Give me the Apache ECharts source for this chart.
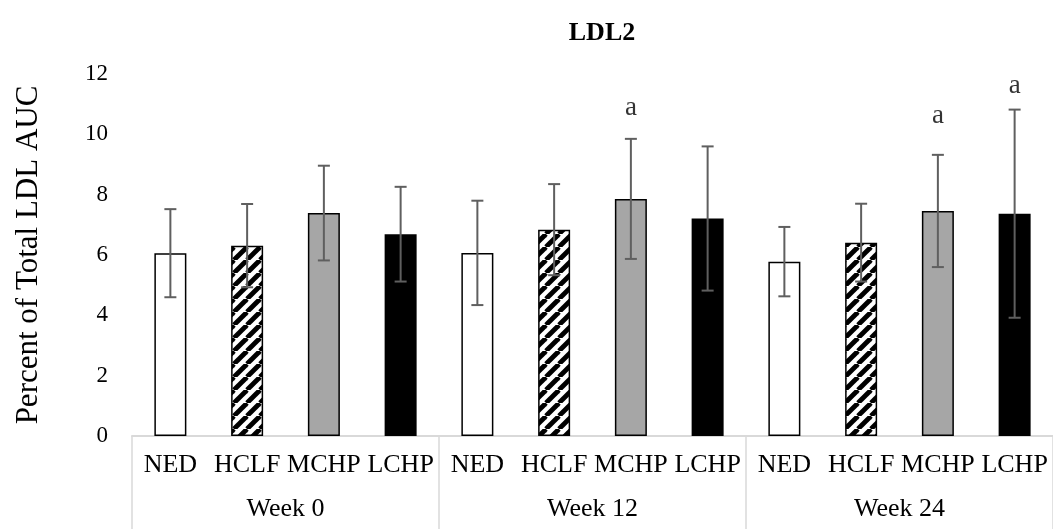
<!DOCTYPE html>
<html>
<head>
<meta charset="utf-8">
<script src="https://cdn.jsdelivr.net/npm/echarts@6/dist/echarts.min.js"></script>
<style>
html,body{margin:0;padding:0;background:#fff;}
#chart{width:1053px;height:529px;}
</style>
</head>
<body>
<div id="chart"></div>
<script>
// ---- data ----
const treatments = ['NED', 'HCLF', 'MCHP', 'LCHP'];
const weeks = ['Week 0', 'Week 12', 'Week 24'];
const week0Mean = [6.06, 6.31, 7.39, 6.69];
const week0Err = [1.46, 1.38, 1.57, 1.57];
const week12Mean = [6.07, 6.84, 7.86, 7.21];
const week12Err = [1.73, 1.51, 1.99, 2.39];
const week24Mean = [5.78, 6.41, 7.46, 7.37];
const week24Err = [1.15, 1.29, 1.86, 3.45];
const yTicks = [0, 2, 4, 6, 8, 10, 12];
// significance letters: [week index, treatment index, y value of letter]
const sigWeek = [1, 2, 2];
const sigTreatment = [2, 2, 3];
const sigY = [10.88, 10.6, 11.6];
const sigText = ['a', 'a', 'a'];

// ---- build ----
const FONT = "'Liberation Serif', 'Times New Roman', serif";
const means = [week0Mean, week12Mean, week24Mean];
const errs = [week0Err, week12Err, week24Err];
const categories = [];
const barData = [];
const errData = [];

function hatch() {
  const s = 13;
  const c = document.createElement('canvas');
  c.width = s; c.height = s;
  const ctx = c.getContext('2d');
  ctx.fillStyle = '#fff';
  ctx.fillRect(0, 0, s, s);
  ctx.strokeStyle = '#000';
  ctx.lineWidth = 4.8;
  for (const dx of [-s, 0, s]) {
    ctx.beginPath();
    ctx.moveTo(dx, s);
    ctx.lineTo(dx + s, 0);
    ctx.stroke();
  }
  return c;
}
const hatchCanvas = hatch();
const styles = [
  { color: '#ffffff', borderColor: '#000', borderWidth: 1.5 },
  { color: { image: hatchCanvas, repeat: 'repeat' }, borderColor: '#000', borderWidth: 1.5 },
  { color: '#a6a6a6', borderColor: '#000', borderWidth: 1.5 },
  { color: '#000000', borderColor: '#000', borderWidth: 0 }
];

weeks.forEach((w, wi) => {
  treatments.forEach((t, ti) => {
    const idx = categories.length;
    categories.push(t);
    barData.push({ value: means[wi][ti], itemStyle: styles[ti] });
    errData.push([idx, means[wi][ti] - errs[wi][ti], means[wi][ti] + errs[wi][ti]]);
  });
});
const sigData = sigY.map((y, i) => ({
  value: [sigWeek[i] * treatments.length + sigTreatment[i], y],
  label: { formatter: sigText[i] }
}));

const chart = echarts.init(document.getElementById('chart'), null, { renderer: 'canvas' });
chart.setOption({
  animation: false,
  backgroundColor: '#fff',
  title: {
    text: 'LDL2',
    left: 597,
    textAlign: 'center',
    top: 15,
    textStyle: { fontFamily: FONT, fontWeight: 'bold', fontSize: 26, color: '#000' }
  },
  grid: { left: 132, right: -9, top: 74, bottom: 93, containLabel: false },
  xAxis: [
    {
      type: 'category',
      data: categories,
      position: 'bottom',
      axisLine: { show: true, lineStyle: { color: '#d9d9d9', width: 2 } },
      axisTick: { show: false },
      axisLabel: { interval: 0, margin: 16, fontFamily: FONT, fontSize: 26, color: '#000' }
    },
    {
      type: 'category',
      data: weeks,
      position: 'bottom',
      axisLine: { show: false },
      axisTick: { show: true, length: 95, lineStyle: { color: '#d9d9d9', width: 1.5 } },
      axisLabel: { interval: 0, margin: 60, fontFamily: FONT, fontSize: 26, color: '#000' }
    }
  ],
  yAxis: {
    type: 'value',
    min: yTicks[0],
    max: yTicks[yTicks.length - 1],
    interval: yTicks[1] - yTicks[0],
    name: 'Percent of Total LDL AUC',
    nameLocation: 'middle',
    nameRotate: 90,
    nameGap: 88,
    nameTextStyle: { fontFamily: FONT, fontSize: 31, color: '#000' },
    axisLine: { show: false },
    axisTick: { show: false },
    splitLine: { show: false },
    axisLabel: { margin: 24, fontFamily: FONT, fontSize: 23, color: '#000' }
  },
  series: [
    {
      type: 'bar',
      xAxisIndex: 0,
      data: barData,
      barWidth: 32
    },
    {
      type: 'custom',
      xAxisIndex: 0,
      data: errData,
      z: 5,
      renderItem: function (params, api) {
        const x = api.value(0);
        const lo = api.coord([x, api.value(1)]);
        const hi = api.coord([x, api.value(2)]);
        const hw = 6;
        const st = { stroke: '#5f5f5f', lineWidth: 2 };
        return {
          type: 'group',
          children: [
            { type: 'line', shape: { x1: lo[0], y1: lo[1], x2: hi[0], y2: hi[1] }, style: st },
            { type: 'line', shape: { x1: lo[0] - hw, y1: lo[1], x2: lo[0] + hw, y2: lo[1] }, style: st },
            { type: 'line', shape: { x1: hi[0] - hw, y1: hi[1], x2: hi[0] + hw, y2: hi[1] }, style: st }
          ]
        };
      }
    },
    {
      type: 'scatter',
      xAxisIndex: 0,
      data: sigData,
      symbolSize: 0,
      silent: true,
      label: {
        show: true,
        position: 'inside',
        fontFamily: FONT,
        fontSize: 27,
        color: '#000'
      }
    }
  ]
});
</script>
</body>
</html>
